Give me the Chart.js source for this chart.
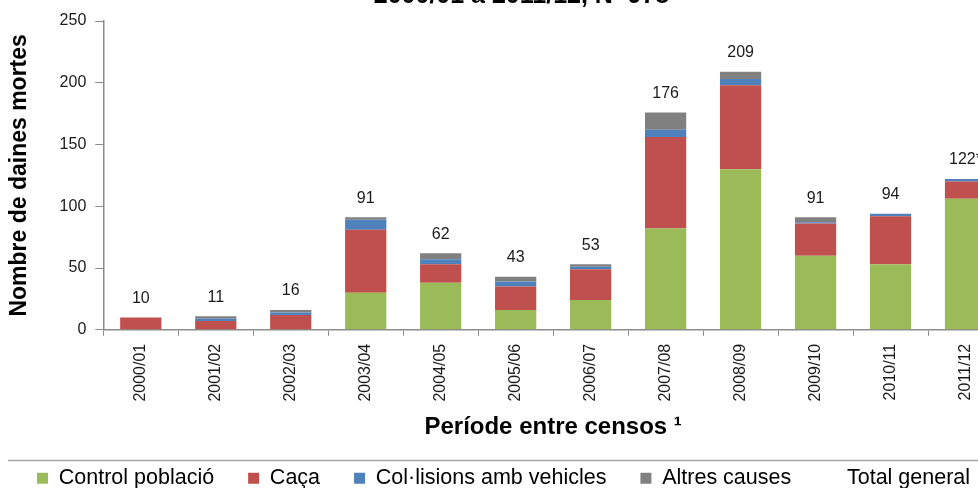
<!DOCTYPE html>
<html>
<head>
<meta charset="utf-8">
<script src="https://cdn.jsdelivr.net/npm/chart.js@4.4.1/dist/chart.umd.min.js"></script>
<style>
  html, body { margin: 0; padding: 0; overflow: hidden; background: #fff; }
  #wrap { position: absolute; left: 0; top: -19px; width: 1040px; height: 518px; }
</style>
</head>
<body>
<div id="wrap"><canvas id="chart"></canvas></div>
<script>
// --- Data ---
const periods = ['2000/01', '2001/02', '2002/03', '2003/04', '2004/05', '2005/06',
                 '2006/07', '2007/08', '2008/09', '2009/10', '2010/11', '2011/12'];
const controlPoblacio = [0, 0, 0, 30, 38, 16, 24, 82, 130, 60, 53, 106];
const caca            = [10, 7, 12, 51, 15, 19, 25, 74, 68, 26, 39, 14];
const collisions      = [0, 2, 2, 8, 4, 4, 2, 6, 5, 1, 2, 2];
const altresCauses    = [0, 2, 2, 2, 5, 4, 2, 14, 6, 4, 0, 0];
const totalGeneral    = [10, 11, 16, 91, 62, 43, 53, 176, 209, 91, 94, 122];
const totalLabels     = ['10', '11', '16', '91', '62', '43', '53', '176', '209', '91', '94', '122*'];
const yTicks = [0, 50, 100, 150, 200, 250];

const FONT = "'Liberation Sans', Arial, sans-serif";
const AXIS_COLOR = '#8c8c8c';

// --- Plugins ---
// totals above each stack, anchored to the invisible "Total general" points
const totalsPlugin = {
    id: 'totals',
    afterDatasetsDraw(chart) {
        const meta = chart.getDatasetMeta(4);
        const ctx = chart.ctx;
        ctx.save();
        ctx.font = `16px ${FONT}`;
        ctx.fillStyle = '#1a1a1a';
        ctx.textAlign = 'center';
        ctx.textBaseline = 'middle';
        meta.data.forEach((pt, i) => {
            ctx.fillText(totalLabels[i], pt.x, pt.y - 19);
        });
        ctx.restore();
    }
};

// grey rule over the legend
const legendRule = {
    id: 'legendRule',
    afterDraw(chart) {
        const boxes = chart.legend.legendHitBoxes;
        if (!boxes || !boxes.length) return;
        const y = Math.round(boxes[0].top - 8) + 0.5;
        const ctx = chart.ctx;
        ctx.save();
        ctx.strokeStyle = '#a6a6a6';
        ctx.lineWidth = 1.5;
        ctx.beginPath();
        ctx.moveTo(8, y);
        ctx.lineTo(chart.width, y);
        ctx.stroke();
        ctx.restore();
    }
};

new Chart(document.getElementById('chart'), {
    data: {
        labels: periods,
        datasets: [
            { type: 'bar', label: 'Control població', data: controlPoblacio, backgroundColor: '#9bbb59', stack: 's' },
            { type: 'bar', label: 'Caça', data: caca, backgroundColor: '#c0504d', stack: 's' },
            { type: 'bar', label: 'Col·lisions amb vehicles', data: collisions, backgroundColor: '#4f81bd', stack: 's' },
            { type: 'bar', label: 'Altres causes', data: altresCauses, backgroundColor: '#808080', stack: 's' },
            { type: 'line', label: 'Total general', data: totalGeneral, stack: 'total',
              showLine: false, pointRadius: 0, pointHoverRadius: 0,
              borderWidth: 0, borderColor: 'rgba(0,0,0,0)', backgroundColor: 'rgba(0,0,0,0)' }
        ]
    },
    options: {
        responsive: true,
        maintainAspectRatio: false,
        animation: false,
        events: [],
        datasets: { bar: { categoryPercentage: 1, barPercentage: 0.55 } },
        layout: { padding: { left: 3, right: 0, top: 0, bottom: 0 } },
        plugins: {
            title: {
                display: true,
                text: '2000/01 a 2011/12, N=978',
                color: '#000',
                font: { family: FONT, size: 25, weight: 'bold' },
                padding: { top: 0, bottom: 10 }
            },
            legend: {
                position: 'bottom',
                align: 'start',
                labels: {
                    color: '#000',
                    font: { family: FONT, size: 21.5 },
                    boxWidth: 11,
                    boxHeight: 11,
                    padding: 34
                }
            },
            tooltip: { enabled: false }
        },
        scales: {
            x: {
                stacked: true,
                grid: { display: true, drawOnChartArea: false, drawTicks: true, tickLength: 6, offset: true, color: AXIS_COLOR },
                border: { color: AXIS_COLOR, width: 1.5 },
                ticks: { color: '#1a1a1a', font: { family: FONT, size: 16 }, minRotation: 90, maxRotation: 90, autoSkip: false, padding: 8 },
                title: {
                    display: true,
                    text: 'Període entre censos ¹',
                    color: '#000',
                    font: { family: FONT, size: 24, weight: 'bold' },
                    padding: { top: 3.8, bottom: -8.7 }
                }
            },
            y: {
                stacked: true,
                min: 0,
                max: 250,
                afterBuildTicks: (axis) => { axis.ticks = yTicks.map(v => ({ value: v })); },
                grid: { display: true, drawOnChartArea: false, drawTicks: true, tickLength: 8, color: AXIS_COLOR },
                border: { color: AXIS_COLOR, width: 1.5 },
                ticks: { color: '#1a1a1a', font: { family: FONT, size: 16 }, padding: 9 },
                title: {
                    display: true,
                    text: 'Nombre de daines mortes',
                    color: '#000',
                    font: { family: FONT, size: 23, weight: 'bold' },
                    padding: { top: 3, bottom: 17 }
                }
            },
            // empty right-hand spacer so the plot stops where the original did
            spacer: {
                type: 'linear',
                position: 'right',
                grid: { display: false },
                border: { display: false },
                ticks: { display: false },
                afterFit: (axis) => { axis.width = 37; }
            }
        }
    },
    plugins: [totalsPlugin, legendRule]
});
</script>
</body>
</html>
